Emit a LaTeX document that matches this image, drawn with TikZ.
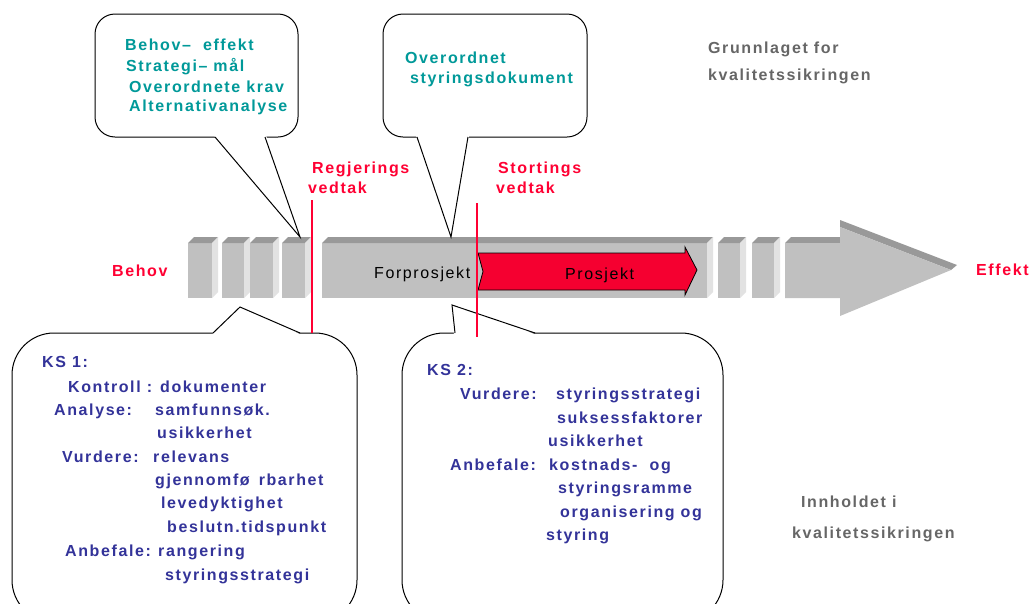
\documentclass[tikz,border=0pt]{standalone}
\usepackage{fontspec}
\setmainfont{Liberation Sans}
\newfontfamily\lsp[LetterSpace=10]{Liberation Sans}
\definecolor{tealtx}{HTML}{009999}
\definecolor{ksblue}{HTML}{333399}
\definecolor{vred}{HTML}{FF0033}
\definecolor{gtxt}{HTML}{666666}
\definecolor{barfront}{HTML}{C0C0C0}
\definecolor{bartop}{HTML}{999999}
\definecolor{barside}{HTML}{E2E2E2}
\definecolor{prored}{HTML}{F50030}
\tikzset{
 txt/.style={anchor=base west, inner sep=0pt, font=\lsp\bfseries\fontsize{16}{19}\selectfont},
 tealtxt/.style={txt, text=tealtx},
 bluetxt/.style={txt, text=ksblue},
 redtxt/.style={txt, text=vred},
 graytxt/.style={txt, text=gtxt},
 plaintxt/.style={anchor=base west, inner sep=0pt, font=\lsp\fontsize{16}{19}\selectfont, text=black},
 callout/.style={draw=black, line width=1pt, fill=white},
 ptr/.style={draw=black, line width=1pt},
 vline/.style={draw=vred, line width=2.5pt},
 frontface/.style={fill=barfront},
 topface/.style={fill=bartop},
 sideface/.style={fill=barside},
}
\newcommand\blockthreed[4]{%
 \fill[frontface] (#1,#3) rectangle (#2,#4);
 \fill[topface] (#1,#3) -- (#1+6,#3-6) -- (#2+6,#3-6) -- (#2,#3) -- cycle;
 \fill[sideface] (#2,#3) -- (#2+6,#3-6) -- (#2+6,#4-6) -- (#2,#4) -- cycle;
}
\begin{document}
\begin{tikzpicture}[x=1pt,y=-1pt]
\clip (0,0) rectangle (1031,603);
\fill[white] (0,0) rectangle (1031,603);

% ---- bar ----
\blockthreed{188}{212}{243}{298}
\blockthreed{222}{244}{243}{298}
\blockthreed{250}{273}{243}{298}
\blockthreed{282}{305}{243}{298}
\blockthreed{322}{707}{243}{298}
\blockthreed{718}{740}{243}{298}
\blockthreed{752}{774}{243}{298}
% final arrow
\fill[topface] (785,243) -- (791,237) -- (840,237) -- (840,243) -- cycle;
\fill[topface] (840,227) -- (840,220) -- (957,265) -- (951,270) -- cycle;
\fill[frontface] (785,243) -- (840,243) -- (840,227) -- (951,270) -- (840,316) -- (840,298) -- (785,298) -- cycle;

% red project arrow
\draw[fill=prored, draw=black, line width=0.8pt] (478,253) -- (685,253) -- (685,247) -- (697,270) -- (685,295) -- (685,290) -- (478,290) -- (483,271.5) -- cycle;
\node[plaintxt] (forp) at (374,278) {Forprosjekt};
\node[plaintxt] (prosj) at (565,279) {Prosjekt};

% ---- top callouts ----
\draw[callout, rounded corners=20pt] (95,14) rectangle (298,137);
\fill[white] (214,135.5) -- (300,237) -- (266,135.5) -- cycle;
\coordinate (c1a) at (215,137); \coordinate (c1t) at (300,237); \coordinate (c1b) at (265,137);
\draw[ptr] (c1a) -- (c1t) -- (c1b);
\node[tealtxt] (t1) at (125,50) {Behov–\ \ effekt};
\node[tealtxt] (t2) at (126,71) {Strategi– mål};
\node[tealtxt] (t3) at (129,92) {Overordnete krav};
\node[tealtxt] (t4) at (129,111) {Alternativanalyse};

\draw[callout, rounded corners=20pt] (383,14) rectangle (587,137);
\fill[white] (416,135.5) -- (451,237) -- (469,135.5) -- cycle;
\coordinate (c2a) at (417,137); \coordinate (c2t) at (451,237); \coordinate (c2b) at (468,137);
\draw[ptr] (c2a) -- (c2t) -- (c2b);
\node[tealtxt] (o1) at (405,63) {Overordnet};
\node[tealtxt] (o2) at (410,83) {styringsdokument};

% ---- bottom callouts ----
\draw[callout, rounded corners=42pt] (12,333) rectangle (357,622);
\fill[white] (212,334.5) -- (240,307) -- (301,334.5) -- cycle;
\coordinate (k1a) at (213,333); \coordinate (k1t) at (240,307); \coordinate (k1b) at (300,333);
\draw[ptr] (k1a) -- (k1t) -- (k1b);

\draw[callout, rounded corners=42pt] (402,333) rectangle (723,622);
\fill[white] (454,334.5) -- (452,305) -- (536,334.5) -- cycle;
\coordinate (k2a) at (455,333); \coordinate (k2t) at (452,305); \coordinate (k2b) at (535,333);
\draw[ptr] (k2a) -- (k2t) -- (k2b);

% ---- red decision lines ----
\coordinate (r1a) at (312,200); \coordinate (r1b) at (312,333);
\coordinate (r2a) at (477,203); \coordinate (r2b) at (477,337);
\draw[vline] (r1a) -- (r1b);
\draw[vline] (r2a) -- (r2b);
\node[redtxt] (reg1) at (312,173) {Regjerings};
\node[redtxt] (reg2) at (308,193) {vedtak};
\node[redtxt] (sto1) at (498,173) {Stortings};
\node[redtxt] (sto2) at (496,193) {vedtak};
\node[redtxt] (behov) at (112,276) {Behov};
\node[redtxt] (effekt) at (976,275) {Effekt};

% ---- gray labels ----
\node[graytxt] (g1) at (708,53) {Grunnlaget for};
\node[graytxt] (g2) at (708,80) {kvalitetssikringen};
\node[graytxt] (i1) at (801,507) {Innholdet i};
\node[graytxt] (i2) at (792,538) {kvalitetssikringen};

% ---- KS 1 text ----
\node[bluetxt] (a0) at (42,367) {KS 1:};
\node[bluetxt] (a1) at (68,392) {Kontroll : dokumenter};
\node[bluetxt] (a2) at (54,415) {Analyse:};
\node[bluetxt] (a2b) at (155,415) {samfunnsøk.};
\node[bluetxt] (a3) at (157,438) {usikkerhet};
\node[bluetxt] (a4) at (62,462) {Vurdere:};
\node[bluetxt] (a4b) at (153,462) {relevans};
\node[bluetxt] (a5) at (155,485) {gjennomfø\hspace{9pt}rbarhet};
\node[bluetxt] (a6) at (161,508) {levedyktighet};
\node[bluetxt] (a7) at (167,532) {beslutn.tidspunkt};
\node[bluetxt] (a8) at (65,556) {Anbefale:};
\node[bluetxt] (a8b) at (158,556) {rangering};
\node[bluetxt] (a9) at (165,580) {styringsstrategi};

% ---- KS 2 text ----
\node[bluetxt] (b0) at (427,375) {KS 2:};
\node[bluetxt] (b1) at (460,399) {Vurdere:};
\node[bluetxt] (b1b) at (556,399) {styringsstrategi};
\node[bluetxt] (b2) at (557,423) {suksessfaktorer};
\node[bluetxt] (b3) at (548,446) {usikkerhet};
\node[bluetxt] (b4) at (450,470) {Anbefale:};
\node[bluetxt] (b4b) at (549,470) {kostnads-\ \ og};
\node[bluetxt] (b5) at (558,493) {styringsramme};
\node[bluetxt] (b6) at (560,517) {organisering og};
\node[bluetxt] (b7) at (546,540) {styring};
\end{tikzpicture}
\end{document}
